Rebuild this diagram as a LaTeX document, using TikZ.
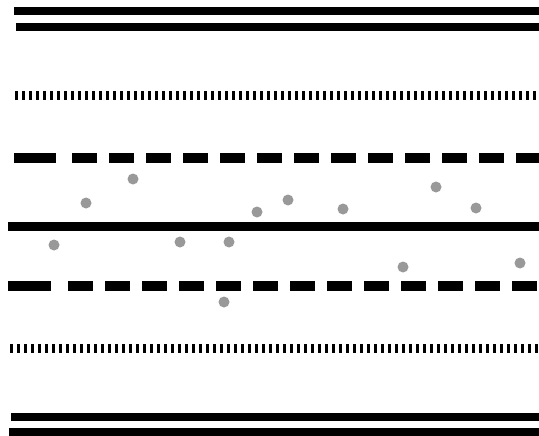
\documentclass[tikz,border=0pt]{standalone}
\usepackage{tikz}

\begin{document}
\begin{tikzpicture}[
    x = 1pt,
    y = -1pt,
    solid_line/.style = {line width = 8pt},
    dashed_line/.style = {line width = 10pt, dash pattern = on 25pt off 12pt},
    dotted_line/.style = {line width = 9pt, dash pattern = on 3pt off 4pt},
    particle/.style = {circle, fill = gray!80, minimum size = 11pt, inner sep = 0pt}
  ]
    \useasboundingbox (0, 0) rectangle (539, 436);
    % outer double lines
    \draw[solid_line] (14, 11) -- (539, 11);
    \draw[solid_line] (16, 27) -- (539, 27);
    \draw[solid_line] (11, 417) -- (539, 417);
    \draw[solid_line] (9, 432) -- (539, 432);
    % dotted lines
    \draw[dotted_line] (15, 96) -- (539, 96);
    \draw[dotted_line] (10, 348) -- (539, 348);
    % dashed lines
    \draw[line width = 10pt] (14, 158) -- (56, 158);
    \draw[dashed_line] (72, 158) -- (539, 158);
    \draw[line width = 10pt] (8, 286) -- (51, 286);
    \draw[dashed_line] (68, 286) -- (539, 286);
    % centre line
    \draw[line width = 9pt] (8, 226) -- (539, 226);
    % particles
    \foreach \px/\py [count = \i] in {54/245, 86/203, 133/179, 180/242, 229/242,
        257/212, 288/200, 224/302, 343/209, 403/267, 436/187, 476/208, 520/263}
      \node[particle] (particle_\i) at (\px, \py) {};
  \end{tikzpicture}
\end{document}
